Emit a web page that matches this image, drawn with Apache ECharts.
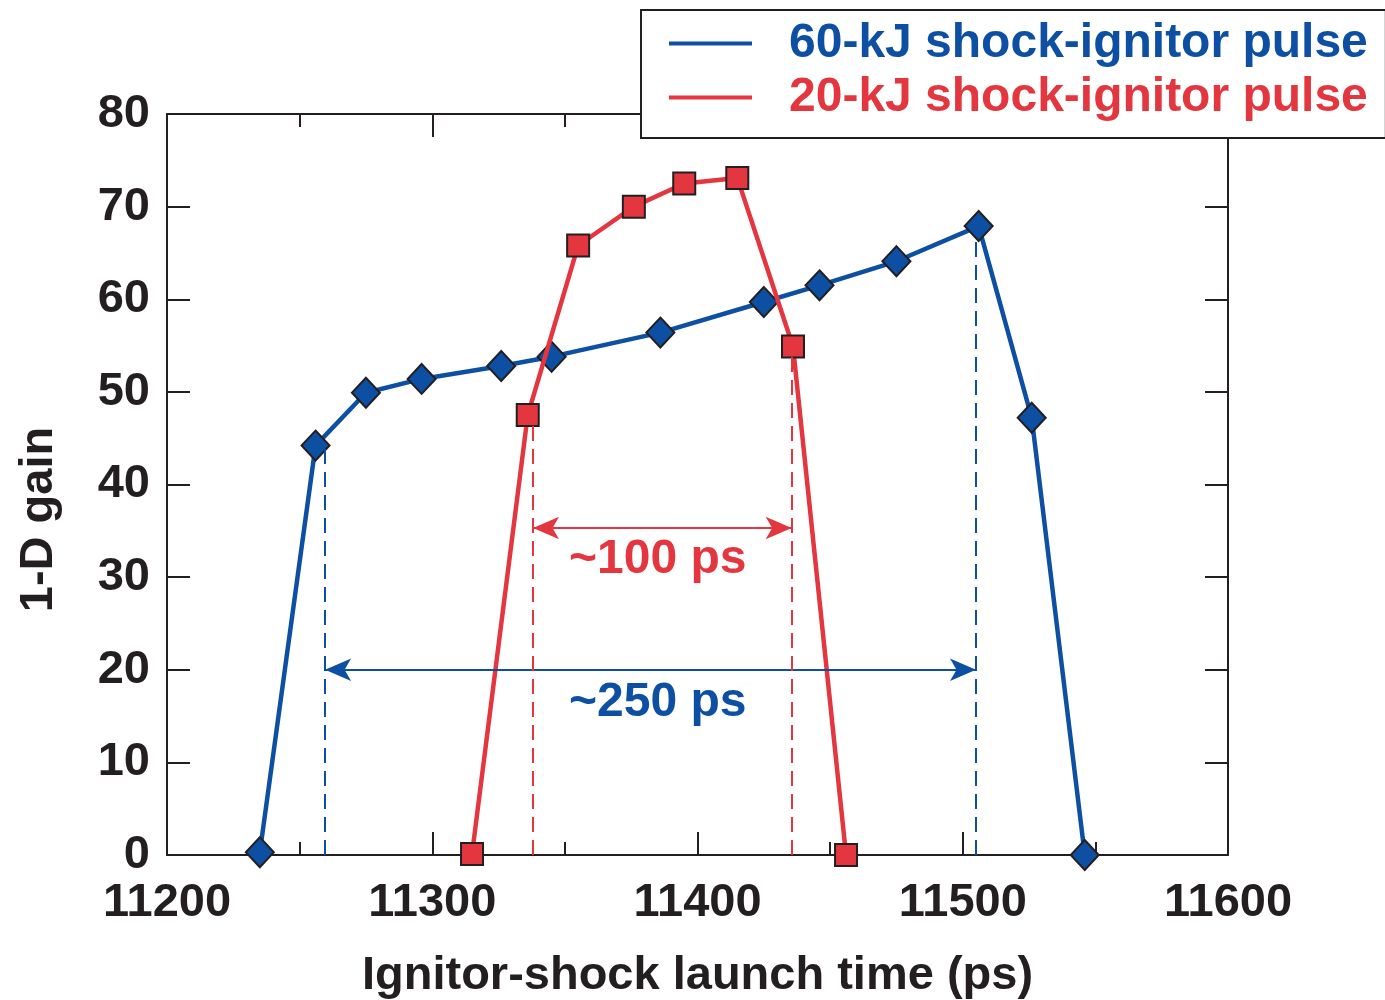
<!DOCTYPE html>
<html>
<head>
<meta charset="utf-8">
<script src="https://cdn.jsdelivr.net/npm/echarts@6/dist/echarts.min.js"></script>
<style>
html,body{margin:0;padding:0;background:#ffffff;}
#chart{width:1385px;height:1000px;}
</style>
</head>
<body>
<div id="chart"></div>
<script>
// ---- data ----
const seriesNames = ['60-kJ shock-ignitor pulse', '20-kJ shock-ignitor pulse'];
const blueX = [11235, 11256, 11275, 11296, 11326, 11345, 11386, 11425, 11446, 11475, 11506, 11526, 11546];
const blueY = [0.3, 44.2, 49.9, 51.4, 52.8, 53.8, 56.4, 59.7, 61.5, 64.1, 67.9, 47.2, 0];
const redX = [11315, 11336, 11355, 11376, 11395, 11415, 11436, 11456];
const redY = [0.1, 47.5, 65.8, 70.0, 72.5, 73.1, 54.9, 0];
const xAxisTitle = 'Ignitor-shock launch time (ps)';
const yAxisTitle = '1-D gain';
// guide lines (dashed) and span arrows
const blueGuideX = [11259.6, 11505];
const blueGuideTop = [44.2, 67.9];
const blueArrowY = 20.0;
const redGuideX = [11338, 11435.5];
const redGuideTop = [47.5, 54.9];
const redArrowY = 35.3;
const spanTexts = ['~100 ps', '~250 ps'];
const spanTextX = [11385, 11385];
const spanTextY = [31.9, 16.4];

// ---- styles ----
const BLUE = '#0d4fa3';
const RED = '#e3363f';
const INK = '#231f20';
const FONT = '"Liberation Sans", Arial, Helvetica, sans-serif';

const pair = (xs, ys) => xs.map((x, i) => [x, ys[i]]);

function guides(xs, tops, color) {
  return xs.map((x, i) => [
    { coord: [x, 0], symbol: 'none', lineStyle: { color: color, width: 2, type: [15, 8] } },
    { coord: [x, tops[i]], symbol: 'none' }
  ]);
}
function arrow(xs, y, color) {
  const end = { symbol: 'arrow', symbolSize: [17, 26] };
  return [
    Object.assign({ coord: [xs[0], y], lineStyle: { color: color, width: 2, type: 'solid' } }, end),
    Object.assign({ coord: [xs[1], y] }, end)
  ];
}

const chart = echarts.init(document.getElementById('chart'), null, { renderer: 'canvas' });

const axisLineStyle = { color: INK, width: 2 };

chart.setOption({
  animation: false,
  backgroundColor: '#ffffff',
  textStyle: { fontFamily: FONT },
  grid: { left: 167, top: 114, right: 157, bottom: 145, containLabel: false, outerBoundsMode: 'none' },
  legend: {
    left: 641, top: 10, orient: 'vertical',
    backgroundColor: '#ffffff', borderColor: INK, borderWidth: 2, borderRadius: 0,
    padding: [5, 18, 12, 28],
    itemWidth: 83, itemHeight: 4, itemGap: -3,
    icon: 'rect',
    selectedMode: false,
    itemStyle: { borderWidth: 0 },
    textStyle: { fontFamily: FONT, fontSize: 48, fontWeight: 'bold', lineHeight: 47, padding: [10, 0, 0, 32] },
    data: [
      { name: seriesNames[0], textStyle: { color: BLUE } },
      { name: seriesNames[1], textStyle: { color: RED } }
    ],
    z: 10
  },
  xAxis: [
    {
      type: 'value', position: 'bottom', min: 11200, max: 11600, interval: 100,
      axisLine: { show: true, onZero: false, lineStyle: axisLineStyle },
      axisTick: { show: true, inside: true, length: 23, lineStyle: axisLineStyle },
      minorTick: { show: true, splitNumber: 2, length: 13, lineStyle: axisLineStyle },
      splitLine: { show: false },
      axisLabel: { show: true, color: INK, fontFamily: FONT, fontSize: 47, fontWeight: 'bold', margin: 25,
                   formatter: v => String(v) },
      name: xAxisTitle, nameLocation: 'middle', nameGap: 98,
      nameTextStyle: { color: INK, fontFamily: FONT, fontSize: 47, fontWeight: 'bold' }
    },
    {
      type: 'value', position: 'top', min: 11200, max: 11600, interval: 100,
      axisLine: { show: true, onZero: false, lineStyle: axisLineStyle },
      axisTick: { show: true, inside: true, length: 23, lineStyle: axisLineStyle },
      minorTick: { show: true, splitNumber: 2, length: 13, lineStyle: axisLineStyle },
      splitLine: { show: false },
      axisLabel: { show: false }
    }
  ],
  yAxis: [
    {
      type: 'value', position: 'left', min: 0, max: 80, interval: 10,
      axisLine: { show: true, onZero: false, lineStyle: axisLineStyle },
      axisTick: { show: true, inside: true, length: 23, lineStyle: axisLineStyle },
      splitLine: { show: false },
      axisLabel: { show: true, color: INK, fontFamily: FONT, fontSize: 47, fontWeight: 'bold', margin: 17 },
      name: yAxisTitle, nameLocation: 'middle', nameGap: 104, nameRotate: 90,
      nameTextStyle: { color: INK, fontFamily: FONT, fontSize: 47, fontWeight: 'bold', padding: [0, 70, 0, 0] }
    },
    {
      type: 'value', position: 'right', min: 0, max: 80, interval: 10,
      axisLine: { show: true, onZero: false, lineStyle: axisLineStyle },
      axisTick: { show: true, inside: true, length: 23, lineStyle: axisLineStyle },
      splitLine: { show: false },
      axisLabel: { show: false }
    }
  ],
  series: [
    {
      name: seriesNames[0], type: 'line', xAxisIndex: 0, yAxisIndex: 0,
      data: pair(blueX, blueY),
      symbol: 'diamond', symbolSize: [28, 30],
      lineStyle: { color: BLUE, width: 4.5 },
      itemStyle: { color: BLUE, borderColor: INK, borderWidth: 2 },
      emphasis: { disabled: true },
      z: 3,
      markLine: {
        silent: true, animation: false,
        symbol: ['none', 'none'],
        label: { show: false },
        emphasis: { disabled: true },
        data: guides(blueGuideX, blueGuideTop, BLUE).concat([arrow(blueGuideX, blueArrowY, BLUE)])
      }
    },
    {
      name: seriesNames[1], type: 'line', xAxisIndex: 0, yAxisIndex: 0,
      data: pair(redX, redY),
      symbol: 'rect', symbolSize: 22,
      lineStyle: { color: RED, width: 4.5 },
      itemStyle: { color: RED, borderColor: INK, borderWidth: 2 },
      emphasis: { disabled: true },
      z: 4,
      markLine: {
        silent: true, animation: false,
        symbol: ['none', 'none'],
        label: { show: false },
        emphasis: { disabled: true },
        data: guides(redGuideX, redGuideTop, RED).concat([arrow(redGuideX, redArrowY, RED)])
      }
    },
    {
      name: 'spans', type: 'scatter', xAxisIndex: 0, yAxisIndex: 0,
      symbolSize: 0, silent: true, z: 5,
      itemStyle: { opacity: 1 },
      data: spanTexts.map((t, i) => ({
        name: t, value: [spanTextX[i], spanTextY[i]],
        label: { color: i === 0 ? RED : BLUE }
      })),
      label: {
        show: true, position: 'inside', formatter: p => p.name, opacity: 1,
        fontFamily: FONT, fontSize: 48, fontWeight: 'bold'
      }
    }
  ]
});
</script>
</body>
</html>
